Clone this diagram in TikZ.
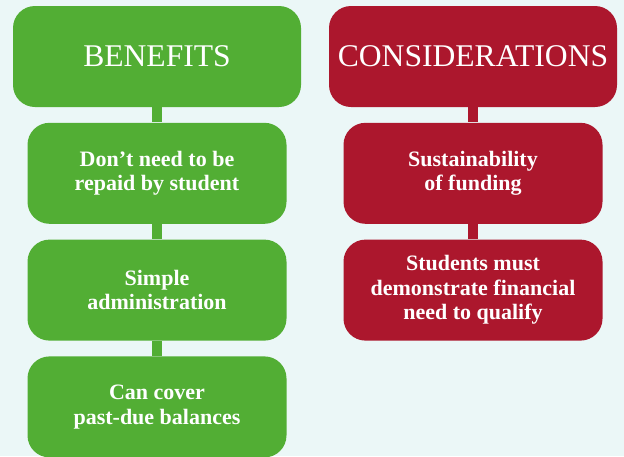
\documentclass[tikz,border=0pt]{standalone}
\usepackage{fontspec}
\setmainfont{Liberation Serif}
\usetikzlibrary{positioning}
\definecolor{bggray}{HTML}{EBF7F7}
\definecolor{bengreen}{HTML}{52AE34}
\definecolor{conred}{HTML}{AC172D}
\begin{document}
\begin{tikzpicture}[x=0.5pt,y=-0.5pt,
    head/.style={rounded corners=11pt,text=white,minimum width=144pt,minimum height=50.5pt,
      font=\fontsize{15.8}{18}\selectfont},
    item/.style={rounded corners=11pt,text=white,minimum width=129.5pt,minimum height=50.5pt,
      align=center,font=\bfseries\fontsize{11}{12.2}\selectfont},
    link/.style={line width=5pt},
    node distance=7.5pt]
    \fill[bggray] (0,0) rectangle (624,456);
    \useasboundingbox (0,0) rectangle (624,456);

    \node[head,fill=bengreen](ben)at(157,56.5){BENEFITS};
    \node[item,fill=bengreen,below=of ben](repaid){Don't need to be\\repaid by student};
    \node[item,fill=bengreen,below=of repaid](admin){Simple\\administration};
    \node[item,fill=bengreen,below=of admin](pastdue){Can cover\\past-due balances};

    \node[head,fill=conred](con)at(473,56.5){CONSIDERATIONS};
    \node[item,fill=conred,below=of con](fund){Sustainability\\of funding};
    \node[item,fill=conred,below=of fund](need){Students must\\demonstrate financial\\need to qualify};

    \draw[link,bengreen] (ben) to (repaid);
    \draw[link,bengreen] (repaid) to (admin);
    \draw[link,bengreen] (admin) to (pastdue);
    \draw[link,conred] (con) to (fund);
    \draw[link,conred] (fund) to (need);
  \end{tikzpicture}
\end{document}
